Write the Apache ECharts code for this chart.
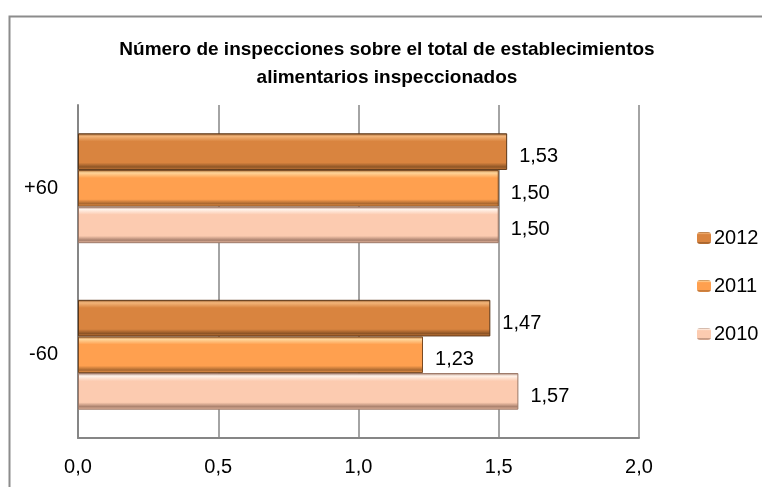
<!DOCTYPE html>
<html>
<head>
<meta charset="utf-8">
<script src="https://cdn.jsdelivr.net/npm/echarts@6/dist/echarts.min.js"></script>
<style>
  html, body { margin: 0; padding: 0; background: #fff; }
  #chart { width: 762px; height: 487px; }
</style>
</head>
<body>
<div id="chart"></div>
<script>
// datos
var categorias = ['-60', '+60'];
var anios = ['2012', '2011', '2010'];
var datos2012 = [1.47, 1.53];
var datos2011 = [1.23, 1.50];
var datos2010 = [1.57, 1.50];
var ticks = [0, 0.5, 1, 1.5, 2];

var FONT = '"Liberation Sans", "DejaVu Sans", sans-serif';

// degradado tipo bisel
function bisel(claro, medio, oscuro) {
    return new echarts.graphic.LinearGradient(0, 0, 0, 1, [
        { offset: 0, color: oscuro },
        { offset: 0.08, color: claro },
        { offset: 0.22, color: medio },
        { offset: 0.8, color: medio },
        { offset: 0.92, color: oscuro },
        { offset: 1, color: medio }
    ]);
}

function coma(v, d) {
    return v.toFixed(d).replace('.', ',');
}

function serie(nombre, datos, estilo, borde) {
    return {
        name: nombre,
        type: 'bar',
        data: datos,
        barGap: '0%',
        barCategoryGap: '34%',
        itemStyle: { color: estilo, borderColor: borde, borderWidth: 1 },
        label: {
            show: true,
            position: 'right',
            distance: 12,
            offset: [0, 5],
            color: '#000',
            fontSize: 20,
            fontFamily: FONT,
            formatter: function (p) { return coma(p.value, 2); }
        }
    };
}

var myChart = echarts.init(document.getElementById('chart'));

var option = {
    backgroundColor: '#fff',
    animation: false,
    title: {
        text: 'Número de inspecciones sobre el total de establecimientos\nalimentarios inspeccionados',
        left: 382,
        textAlign: 'center',
        top: 31,
        textStyle: {
            fontFamily: FONT,
            fontSize: 19,
            fontWeight: 'bold',
            color: '#000',
            lineHeight: 28
        }
    },
    graphic: [{
        type: 'rect',
        left: 7,
        top: 14,
        shape: { width: 800, height: 520 },
        style: { fill: 'none', stroke: '#8c8c8c', lineWidth: 2 },
        z: -1
    }],
    legend: {
        orient: 'vertical',
        left: 692,
        top: 223,
        itemGap: 28,
        itemWidth: 14,
        itemHeight: 12,
        data: anios,
        itemStyle: { borderWidth: 0 },
        textStyle: { fontFamily: FONT, fontSize: 20, color: '#000', padding: [0, 0, 0, -2] }
    },
    grid: {
        left: 78,
        right: 123,
        top: 105,
        bottom: 49
    },
    xAxis: {
        type: 'value',
        min: ticks[0],
        max: ticks[ticks.length - 1],
        interval: 0.5,
        axisLine: { show: true, lineStyle: { color: '#868686', width: 2 } },
        axisTick: { show: false },
        axisLabel: {
            margin: 19,
            color: '#000',
            fontSize: 20,
            fontFamily: FONT,
            formatter: function (v) { return coma(v, 1); }
        },
        splitLine: { show: true, lineStyle: { color: '#868686', width: 1.5 } }
    },
    yAxis: {
        type: 'category',
        data: categorias,
        axisLine: { show: true, lineStyle: { color: '#868686', width: 2 } },
        axisTick: { show: false },
        axisLabel: { margin: 20, color: '#000', fontSize: 20, fontFamily: FONT }
    },
    series: [
        serie('2012', datos2012, bisel('#f3b57a', '#d9843f', '#8d5526'), '#5a3516'),
        serie('2011', datos2011, bisel('#ffd59a', '#ffa04f', '#a8672f'), '#7a4a22'),
        serie('2010', datos2010, bisel('#fff3ea', '#fccbb0', '#a87f6c'), '#9b7766')
    ]
};

myChart.setOption(option);
</script>
</body>
</html>
